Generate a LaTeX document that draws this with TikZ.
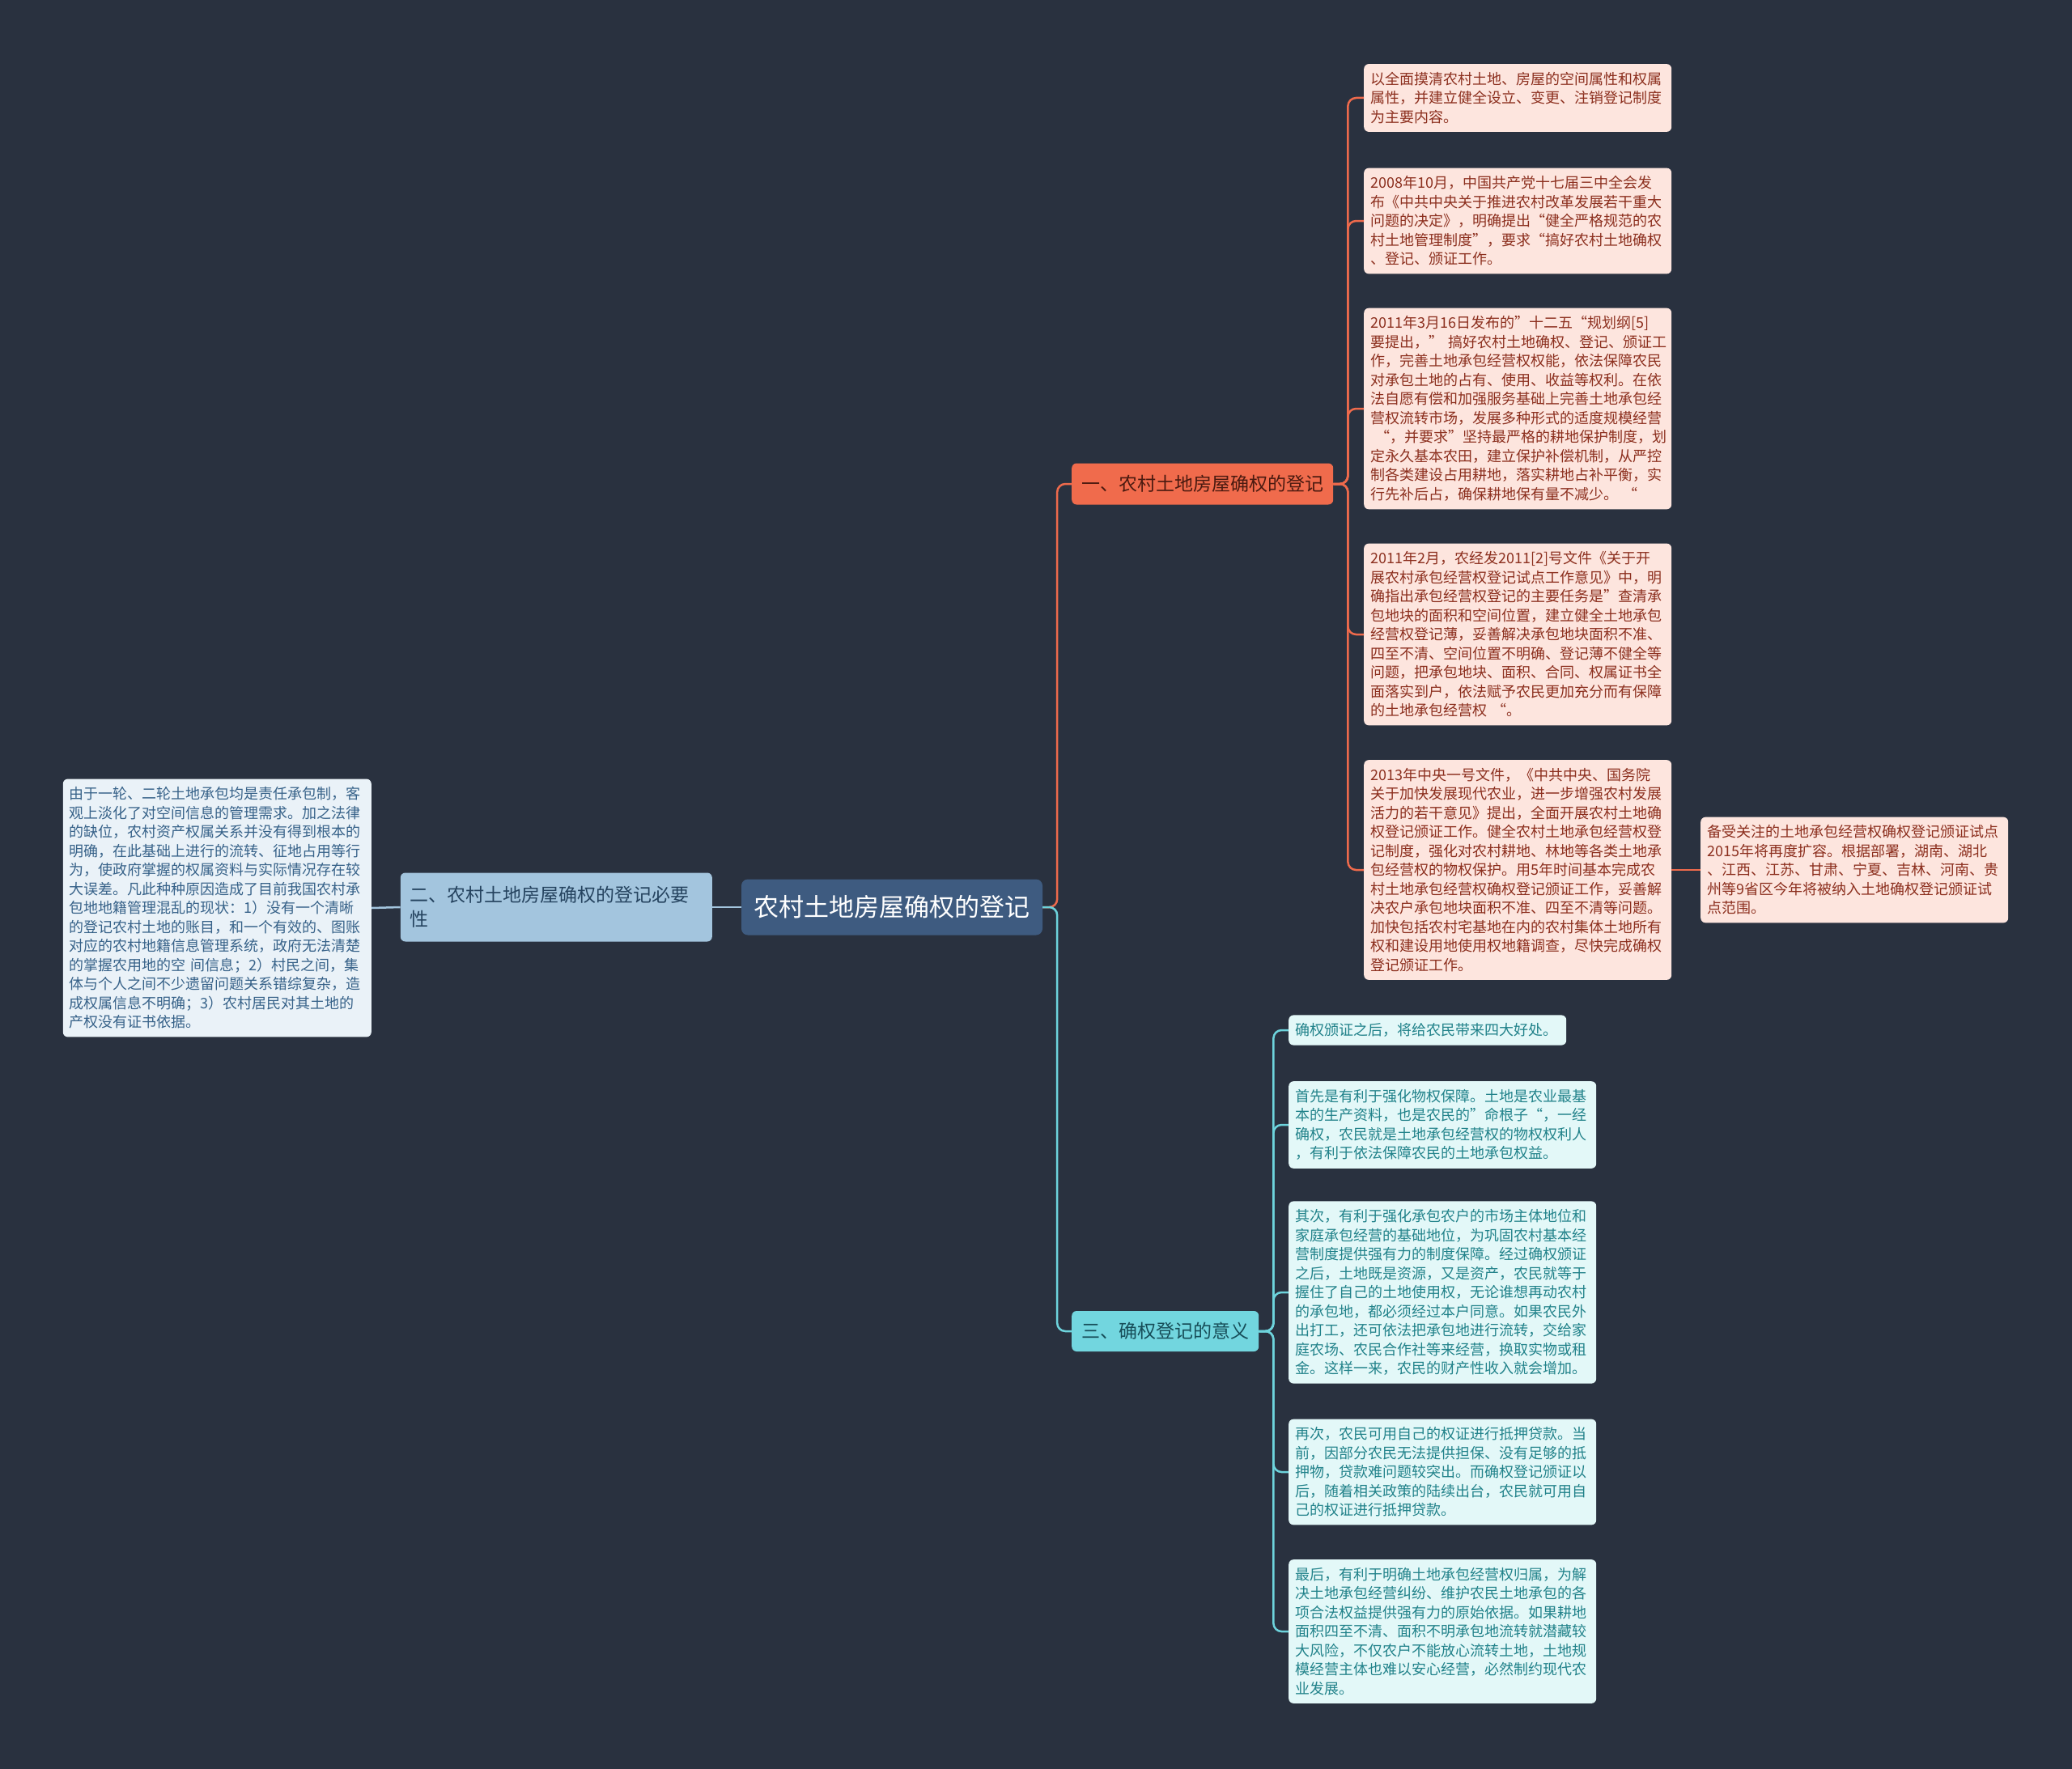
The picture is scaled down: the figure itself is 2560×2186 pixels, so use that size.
\documentclass[tikz,border=0pt]{standalone}
\usepackage{fontspec}
\setmainfont{Noto Sans CJK SC}
\definecolor{bgdark}{HTML}{29313F}
\definecolor{rootfill}{HTML}{3E5B80}
\definecolor{redfill}{HTML}{F06B4C}
\definecolor{redtext}{HTML}{4A1A10}
\definecolor{redline}{HTML}{EE6A4C}
\definecolor{pinkfill}{HTML}{FDE5DE}
\definecolor{pinktext}{HTML}{8C2F1E}
\definecolor{greyfill}{HTML}{A3C5DE}
\definecolor{greytext}{HTML}{25435F}
\definecolor{icefill}{HTML}{EAF2F8}
\definecolor{icetext}{HTML}{376289}
\definecolor{tealfill}{HTML}{72D6DF}
\definecolor{tealtext}{HTML}{174D58}
\definecolor{tealline}{HTML}{6DD3DC}
\definecolor{mintfill}{HTML}{E3F8F8}
\definecolor{minttext}{HTML}{21828A}

\begin{document}
\begin{tikzpicture}[x=1pt,y=-1pt,
 leafbox/.style={rounded corners=6pt,align=left,text width=364pt,inner xsep=8pt,inner ysep=10pt,
   font={\fontsize{18}{23.5}\selectfont},anchor=west},
 redleaf/.style={leafbox,fill=pinkfill,text=pinktext},
 iceleaf/.style={leafbox,fill=icefill,text=icetext},
 mintleaf/.style={leafbox,fill=mintfill,text=minttext},
 topicbox/.style={rounded corners=6pt,align=left,inner xsep=12pt,font={\fontsize{23}{30}\selectfont}},
 link/.style={line width=2.5pt,rounded corners=10pt}]
\fill[bgdark] (0,0) rectangle (2560,2186);
% centre and main topics
\node[topicbox,fill=rootfill,text=white,font={\fontsize{31}{38}\selectfont},
 minimum width=372pt,minimum height=69pt,inner xsep=15pt,rounded corners=8pt] (root) at (1102,1121)
 {农村土地房屋确权的登记};
\node[topicbox,fill=redfill,text=redtext,minimum height=51pt,anchor=west] (sec1) at (1324,598)
 {一、农村土地房屋确权的登记};
\node[topicbox,fill=greyfill,text=greytext,text width=361pt,minimum height=85pt,anchor=east] (sec2) at (880,1121)
 {二、农村土地房屋确权的登记必要\\性};
\node[topicbox,fill=tealfill,text=tealtext,minimum height=50pt,anchor=west] (sec3) at (1324,1645)
 {三、确权登记的意义};
% first topic
\node[redleaf] (a1) at (1685,121)
 {以全面摸清农村土地、房屋的空间属性和权属\\
 属性，并建立健全设立、变更、注销登记制度\\
 为主要内容。};
\node[redleaf] (a2) at (1685,273)
 {2008年10月，中国共产党十七届三中全会发\\
 布《中共中央关于推进农村改革发展若干重大\\
 问题的决定》，明确提出“健全严格规范的农\\
 村土地管理制度”，要求“搞好农村土地确权\\
 、登记、颁证工作。};
\node[redleaf] (a3) at (1685,505)
 {2011年3月16日发布的”十二五“规划纲[5]\\
 要提出，”~搞好农村土地确权、登记、颁证工\\
 作，完善土地承包经营权权能，依法保障农民\\
 对承包土地的占有、使用、收益等权利。在依\\
 法自愿有偿和加强服务基础上完善土地承包经\\
 营权流转市场，发展多种形式的适度规模经营\\
 ~“，并要求”坚持最严格的耕地保护制度，划\\
 定永久基本农田，建立保护补偿机制，从严控\\
 制各类建设占用耕地，落实耕地占补平衡，实\\
 行先补后占，确保耕地保有量不减少。~“};
\node[redleaf] (a4) at (1685,784)
 {2011年2月，农经发2011[2]号文件《关于开\\
 展农村承包经营权登记试点工作意见》中，明\\
 确指出承包经营权登记的主要任务是”查清承\\
 包地块的面积和空间位置，建立健全土地承包\\
 经营权登记薄，妥善解决承包地块面积不准、\\
 四至不清、空间位置不明确、登记薄不健全等\\
 问题，把承包地块、面积、合同、权属证书全\\
 面落实到户，依法赋予农民更加充分而有保障\\
 的土地承包经营权~“。};
\node[redleaf] (a5) at (1685,1075)
 {2013年中央一号文件，《中共中央、国务院\\
 关于加快发展现代农业，进一步增强农村发展\\
 活力的若干意见》提出，全面开展农村土地确\\
 权登记颁证工作。健全农村土地承包经营权登\\
 记制度，强化对农村耕地、林地等各类土地承\\
 包经营权的物权保护。用5年时间基本完成农\\
 村土地承包经营权确权登记颁证工作，妥善解\\
 决农户承包地块面积不准、四至不清等问题。\\
 加快包括农村宅基地在内的农村集体土地所有\\
 权和建设用地使用权地籍调查，尽快完成确权\\
 登记颁证工作。};
\node[redleaf] (a6) at (2101,1075)
 {备受关注的土地承包经营权确权登记颁证试点\\
 2015年将再度扩容。根据部署，湖南、湖北\\
 、江西、江苏、甘肃、宁夏、吉林、河南、贵\\
 州等9省区今年将被纳入土地确权登记颁证试\\
 点范围。};
% second topic
\node[iceleaf,anchor=east,text width=365pt] (l1) at (459,1122)
 {由于一轮、二轮土地承包均是责任承包制，客\\
 观上淡化了对空间信息的管理需求。加之法律\\
 的缺位，农村资产权属关系并没有得到根本的\\
 明确，在此基础上进行的流转、征地占用等行\\
 为，使政府掌握的权属资料与实际情况存在较\\
 大误差。凡此种种原因造成了目前我国农村承\\
 包地地籍管理混乱的现状：1）没有一个清晰\\
 的登记农村土地的账目，和一个有效的、图账\\
 对应的农村地籍信息管理系统，政府无法清楚\\
 的掌握农用地的空~间信息；2）村民之间，集\\
 体与个人之间不少遗留问题关系错综复杂，造\\
 成权属信息不明确；3）农村居民对其土地的\\
 产权没有证书依据。};
% third topic
\node[mintleaf,text width=327pt] (c1) at (1592,1273)
 {确权颁证之后，将给农民带来四大好处。};
\node[mintleaf] (c2) at (1592,1390)
 {首先是有利于强化物权保障。土地是农业最基\\
 本的生产资料，也是农民的”命根子“，一经\\
 确权，农民就是土地承包经营权的物权权利人\\
 ，有利于依法保障农民的土地承包权益。};
\node[mintleaf] (c3) at (1592,1597)
 {其次，有利于强化承包农户的市场主体地位和\\
 家庭承包经营的基础地位，为巩固农村基本经\\
 营制度提供强有力的制度保障。经过确权颁证\\
 之后，土地既是资源，又是资产，农民就等于\\
 握住了自己的土地使用权，无论谁想再动农村\\
 的承包地，都必须经过本户同意。如果农民外\\
 出打工，还可依法把承包地进行流转，交给家\\
 庭农场、农民合作社等来经营，换取实物或租\\
 金。这样一来，农民的财产性收入就会增加。};
\node[mintleaf] (c4) at (1592,1819)
 {再次，农民可用自己的权证进行抵押贷款。当\\
 前，因部分农民无法提供担保、没有足够的抵\\
 押物，贷款难问题较突出。而确权登记颁证以\\
 后，随着相关政策的陆续出台，农民就可用自\\
 己的权证进行抵押贷款。};
\node[mintleaf] (c5) at (1592,2016)
 {最后，有利于明确土地承包经营权归属，为解\\
 决土地承包经营纠纷、维护农民土地承包的各\\
 项合法权益提供强有力的原始依据。如果耕地\\
 面积四至不清、面积不明承包地流转就潜藏较\\
 大风险，不仅农户不能放心流转土地，土地规\\
 模经营主体也难以安心经营，必然制约现代农\\
 业发展。};
% connectors
\draw[link,redline] (root.east) -- ++(18,0) |- (sec1.west);
\draw[link,tealline] (root.east) -- ++(18,0) |- (sec3.west);
\draw[link,greyfill] (root.west) -- (sec2.east);
\draw[link,greyfill] (sec2.west) -- (l1.east);
\foreach \n in {a1,a2,a3,a4,a5}
 \draw[link,redline] (sec1.east) -- ++(18,0) |- (\n.west);
\draw[link,redline] (a5.east) -- (a6.west);
\foreach \n in {c1,c2,c3,c4,c5}
 \draw[link,tealline] (sec3.east) -- ++(18,0) |- (\n.west);
\end{tikzpicture}
\end{document}
